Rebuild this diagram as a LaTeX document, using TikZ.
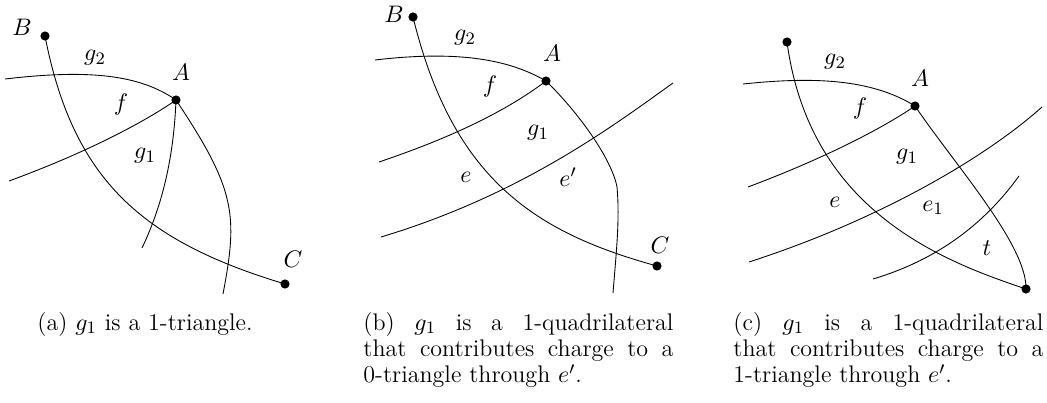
\documentclass[tikz,border=0pt]{standalone}
\usepackage{amsmath,amssymb}
\usepackage{tikz}
\usetikzlibrary{positioning,calc}

\begin{document}
\begin{tikzpicture}[x=0.458pt,y=-0.458pt,font=\fontsize{11}{12.1}\selectfont,
    dot/.style={circle,fill,inner sep=0pt,minimum size=4.2pt},
    lbl/.style={inner sep=0pt},
    subcap/.style={anchor=base west,inner sep=0pt,text width=142pt,align=justify}]
  \useasboundingbox (0,0) rectangle (1047,403);

  % (a) 1-triangle
  \node[dot] (Aa) at (176,100) {};
  \node[dot] (Ba) at (45,36) {};
  \node[dot] (Ca) at (285,284) {};
  \coordinate (a1) at (5,79);
  \coordinate (a2) at (9,181);
  \coordinate (a3) at (142,248);
  \coordinate (a4) at (223,294);
  \draw (Ba.center) .. controls (73,180) and (142,241) .. (Ca.center);
  \draw (a1) .. controls (90,69) and (140,75) .. (Aa.center);
  \draw (Aa.center) .. controls (140,125) and (80,155) .. (a2);
  \draw (Aa.center) .. controls (174,150) and (165,200) .. (a3);
  \draw (Aa.center) .. controls (236,190) and (238,215) .. (a4);
  \node[lbl] (lAa) at (181,72) {$A$};
  \node[lbl] (lBa) at (22,27) {$B$};
  \node[lbl] (lCa) at (293,259) {$C$};
  \node[lbl] (g2a) at (95,58) {$g_2$};
  \node[lbl] (fa) at (121,105) {$f$};
  \node[lbl] (g1a) at (145,156) {$g_1$};

  % (b) 1-quadrilateral, 0-triangle
  \node[dot] (Ab) at (546,81) {};
  \node[dot] (Bb) at (413,17) {};
  \node[dot] (Cb) at (657,266) {};
  \coordinate (b1) at (375,60);
  \coordinate (b2) at (379,162);
  \coordinate (b3) at (617,187);
  \coordinate (b4) at (613,293);
  \coordinate (b5) at (381,237);
  \coordinate (b6) at (673,83);
  \draw (Bb.center) .. controls (453,181) and (537,233) .. (Cb.center);
  \draw (b1) .. controls (460,50) and (510,60) .. (Ab.center);
  \draw (Ab.center) .. controls (505,112) and (450,138) .. (b2);
  \draw (Ab.center) .. controls (580,114) and (612,160) .. (b3)
    .. controls (620,220) and (616,255) .. (b4);
  \draw (b5) .. controls (521,195) and (613,126) .. (b6);
  \node[lbl] (lAb) at (552,53) {$A$};
  \node[lbl] (lBb) at (394,14) {$B$};
  \node[lbl] (lCb) at (660,245) {$C$};
  \node[lbl] (g2b) at (465,38) {$g_2$};
  \node[lbl] (fb) at (490,87) {$f$};
  \node[lbl] (g1b) at (538,133) {$g_1$};
  \node[lbl] (eb) at (466,177) {$e$};
  \node[lbl] (epb) at (568,177) {$e'$};

  % (c) 1-quadrilateral, 1-triangle
  \node[dot] (Ac) at (915,106) {};
  \node[dot] (Dc) at (787,42) {};
  \node[dot] (Ec) at (1026,289) {};
  \coordinate (c1) at (743,84);
  \coordinate (c2) at (748,187);
  \coordinate (c3) at (749,262);
  \coordinate (c4) at (1042,107);
  \coordinate (c5) at (873,279);
  \coordinate (c6) at (1019,176);
  \draw (Dc.center) .. controls (810,213) and (946,262) .. (Ec.center);
  \draw (c1) .. controls (810,77) and (870,78) .. (Ac.center);
  \draw (Ac.center) .. controls (880,130) and (820,160) .. (c2);
  \draw (Ac.center) .. controls (955,165) and (1027,245) .. (Ec.center);
  \draw (c3) .. controls (879,220) and (985,158) .. (c4);
  \draw (c5) .. controls (930,262) and (980,230) .. (c6);
  \node[lbl] (lAc) at (920,78) {$A$};
  \node[lbl] (g2c) at (835,62) {$g_2$};
  \node[lbl] (fc) at (860,109) {$f$};
  \node[lbl] (g1c) at (907,157) {$g_1$};
  \node[lbl] (ec) at (835,202) {$e$};
  \node[lbl] (e1c) at (933,208) {$e_1$};
  \node[lbl] (tc) at (987,248) {$t$};

  % captions
  \node[anchor=base west,inner sep=0pt] (capa) at (37,330) {(a) $g_1$ is a 1-triangle.};
  \node[subcap] (capb) at (363,330)
    {(b) $g_1$ is a 1-quadrilateral\linebreak that contributes charge to a\linebreak 0-triangle through $e'$.};
  \node[subcap] (capc) at (733,330)
    {(c) $g_1$ is a 1-quadrilateral\linebreak that contributes charge to a\linebreak 1-triangle through $e'$.};
\end{tikzpicture}
\end{document}
